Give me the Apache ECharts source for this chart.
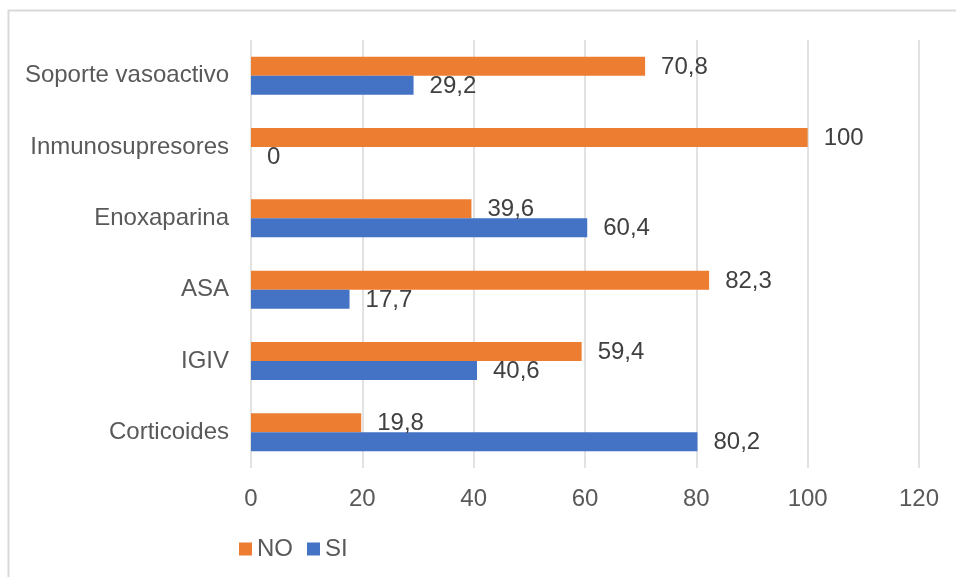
<!DOCTYPE html>
<html>
<head>
<meta charset="utf-8">
<script src="https://cdn.jsdelivr.net/npm/echarts@6/dist/echarts.min.js"></script>
<style>
html,body{margin:0;padding:0;background:#fff;}
#c{width:956px;height:577px;}
</style>
</head>
<body>
<div id="c"></div>
<script>
const categories = ['Corticoides', 'IGIV', 'ASA', 'Enoxaparina', 'Inmunosupresores', 'Soporte vasoactivo'];
const noValues = [19.8, 59.4, 82.3, 39.6, 100, 70.8];
const siValues = [80.2, 40.6, 17.7, 60.4, 0, 29.2];
const xTicks = { min: 0, max: 120, interval: 20 };

const FONT = '"Liberation Sans", Arial, sans-serif';
const fmt = p => String(p.value).replace('.', ',');

const chart = echarts.init(document.getElementById('c'), null, { renderer: 'canvas' });
chart.setOption({
  animation: false,
  backgroundColor: '#ffffff',
  graphic: [{
    type: 'polyline',
    shape: { points: [[8.5, 600], [8.5, 10.5], [960, 10.5]] },
    style: { stroke: '#d9d9d9', lineWidth: 2, fill: null },
    silent: true
  }],
  grid: { left: 251, right: 37, top: 40, bottom: 109, containLabel: false },
  legend: {
    data: ['NO', 'SI'],
    left: 239,
    top: 537,
    padding: 0,
    itemWidth: 13,
    itemHeight: 13,
    itemGap: 14,
    icon: 'rect',
    textStyle: { fontFamily: FONT, fontSize: 24, color: '#595959' }
  },
  xAxis: {
    type: 'value',
    min: xTicks.min,
    max: xTicks.max,
    interval: xTicks.interval,
    axisLine: { show: false },
    axisTick: { show: false },
    splitLine: { show: true, lineStyle: { color: '#d9d9d9', width: 1.5 } },
    axisLabel: { fontFamily: FONT, fontSize: 24, color: '#595959', margin: 19 }
  },
  yAxis: {
    type: 'category',
    data: categories,
    axisLine: { show: false },
    axisTick: { show: false },
    axisLabel: { fontFamily: FONT, fontSize: 24, color: '#595959', margin: 22 }
  },
  series: [
    {
      name: 'NO',
      type: 'bar',
      data: noValues,
      barWidth: 19,
      barGap: '0%',
      itemStyle: { color: '#ED7D31' },
      label: { show: true, position: 'right', distance: 16, offset: [0, 1], formatter: fmt,
               fontFamily: FONT, fontSize: 24, color: '#404040' }
    },
    {
      name: 'SI',
      type: 'bar',
      data: siValues,
      barWidth: 19,
      barGap: '0%',
      itemStyle: { color: '#4472C4' },
      label: { show: true, position: 'right', distance: 16, offset: [0, 1], formatter: fmt,
               fontFamily: FONT, fontSize: 24, color: '#404040' }
    }
  ]
});
</script>
</body>
</html>
